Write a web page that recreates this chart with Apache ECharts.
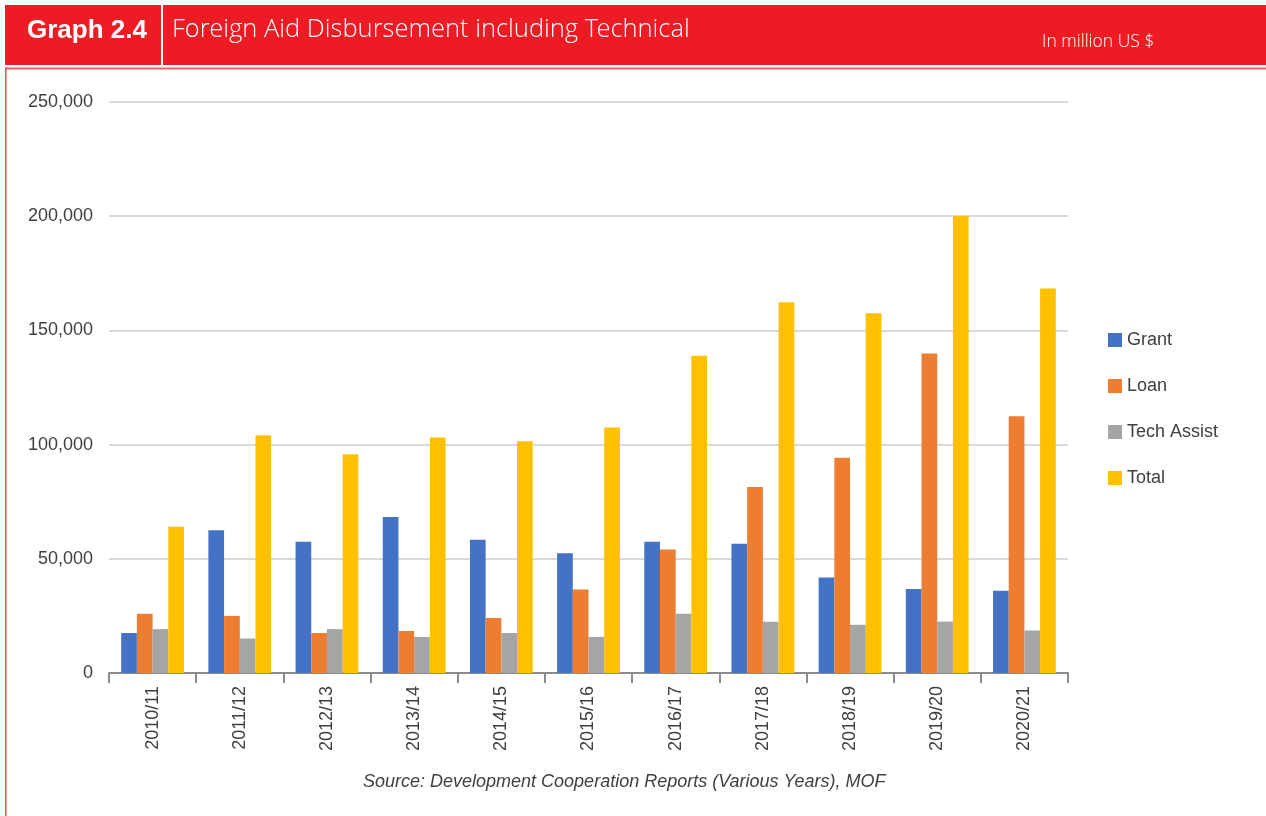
<!DOCTYPE html>
<html>
<head>
<meta charset="utf-8">
<script src="https://cdn.jsdelivr.net/npm/echarts@6/dist/echarts.min.js"></script>
<style>
  html, body { margin: 0; padding: 0; background: #fff; }
  #chart { width: 1266px; height: 816px; }
</style>
</head>
<body>
<div id="chart"></div>
<script>
const categories = ['2010/11','2011/12','2012/13','2013/14','2014/15','2015/16','2016/17','2017/18','2018/19','2019/20','2020/21'];
const grant = [17500, 62500, 57500, 68300, 58300, 52400, 57500, 56600, 41800, 36800, 36000];
const loan = [25900, 25000, 17500, 18400, 24100, 36600, 54100, 81400, 94200, 139900, 112400];
const techAssist = [19200, 15100, 19200, 15800, 17500, 15800, 25900, 22400, 21100, 22500, 18600];
const total = [64000, 104100, 95800, 103100, 101500, 107500, 138900, 162300, 157500, 200100, 168300];
const yTicks = [0, 50000, 100000, 150000, 200000, 250000];

const FONT = '"Liberation Sans", Arial, sans-serif';
const TXT = '#404040';

const chart = echarts.init(document.getElementById('chart'), null, { renderer: 'canvas' });

function barSeries(name, data, color) {
  return {
    name: name, type: 'bar', data: data,
    barGap: '0%', barCategoryGap: '28%',
    itemStyle: { color: color },
    emphasis: { disabled: true }
  };
}

chart.setOption({
  animation: false,
  textStyle: { fontFamily: FONT },
  graphic: [
    { type: 'rect', shape: { x: 5, y: 5, width: 1261, height: 60 }, style: { fill: '#ED1C24' } },
    { type: 'rect', shape: { x: 161, y: 5, width: 2, height: 60 }, style: { fill: '#ffffff' } },
    { type: 'rect', shape: { x: 5, y: 67.5, width: 1261, height: 2 }, style: { fill: '#F26167' } },
    { type: 'rect', shape: { x: 5, y: 67.5, width: 1.5, height: 749 }, style: { fill: '#F0474E' } },
    { type: 'text', left: 27, top: 18, style: { text: 'Graph 2.4', fill: '#fff', font: 'bold 26px ' + FONT } },
    { type: 'text', left: 172, top: 17, style: { text: 'Foreign Aid Disbursement including Technical', fill: '#fff', font: '300 25.5px "Open Sans Light", ' + FONT } },
    { type: 'text', left: 1042, top: 33, style: { text: 'In million US $', fill: '#fff', font: '300 17.5px "Open Sans Light", ' + FONT } },
    { type: 'text', left: 363, top: 773, style: { text: 'Source: Development Cooperation Reports (Various Years), MOF', fill: TXT, font: 'italic 18px ' + FONT } }
  ],
  grid: { left: 109, right: 198, top: 102, bottom: 143, containLabel: false },
  legend: {
    orient: 'vertical', left: 1103, top: 326,
    itemWidth: 14, itemHeight: 14, itemGap: 28,
    icon: 'rect',
    textStyle: { color: TXT, fontSize: 18, fontFamily: FONT },
    data: ['Grant', 'Loan', 'Tech Assist', 'Total']
  },
  xAxis: {
    type: 'category', data: categories,
    axisLine: { lineStyle: { color: '#8c8c8c', width: 2 } },
    axisTick: { show: true, length: 10, lineStyle: { color: '#8c8c8c', width: 2 } },
    axisLabel: { rotate: 90, margin: 13, color: TXT, fontSize: 18, fontFamily: FONT, interval: 0 }
  },
  yAxis: {
    type: 'value', min: yTicks[0], max: yTicks[yTicks.length - 1], interval: yTicks[1] - yTicks[0],
    axisLine: { show: false }, axisTick: { show: false },
    splitLine: { lineStyle: { color: '#d9d9d9', width: 2 } },
    axisLabel: {
      margin: 16, color: TXT, fontSize: 18, fontFamily: FONT,
      formatter: v => v.toLocaleString('en-US')
    }
  },
  series: [
    barSeries('Grant', grant, '#4472C4'),
    barSeries('Loan', loan, '#ED7D31'),
    barSeries('Tech Assist', techAssist, '#A5A5A5'),
    barSeries('Total', total, '#FFC000')
  ]
});
</script>
</body>
</html>
